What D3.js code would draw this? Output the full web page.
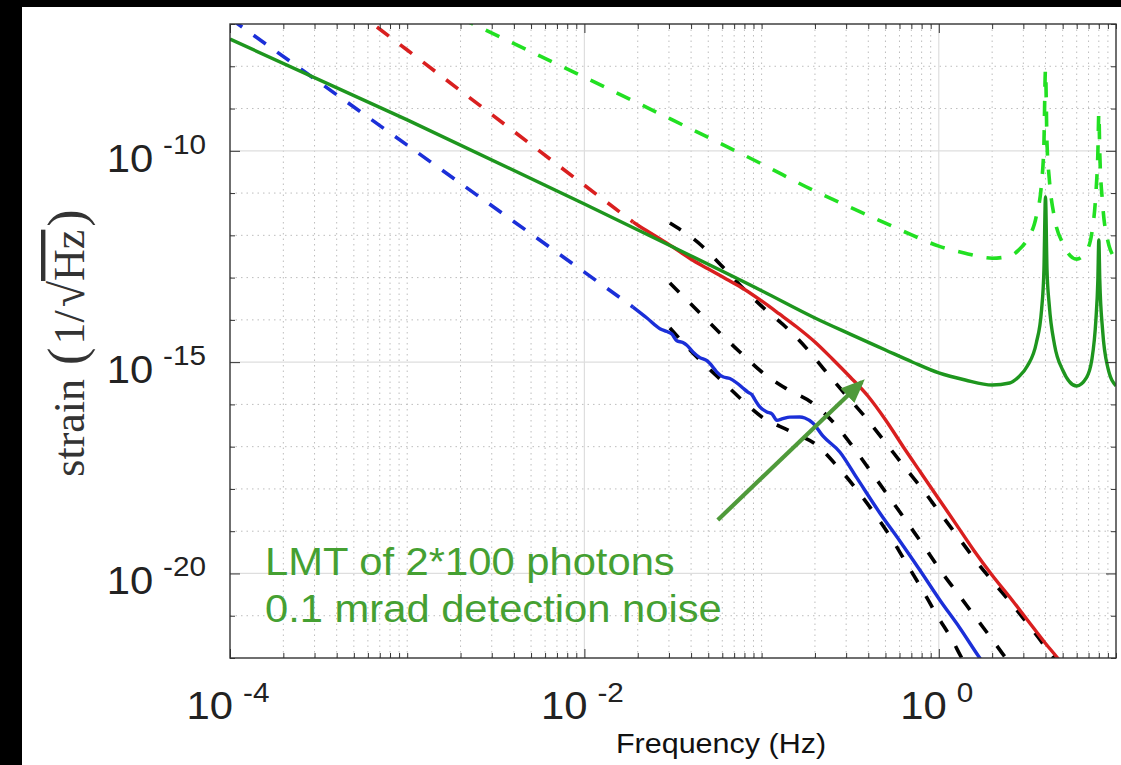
<!DOCTYPE html>
<html><head><meta charset="utf-8">
<script src="https://cdn.jsdelivr.net/npm/d3@7"></script>
<style>html,body{margin:0;padding:0;background:#000;overflow:hidden}</style>
</head><body>
<svg id="chart" width="1121" height="765"></svg>
<script>
// ---------------- data ----------------
const xTickValues = [1e-4, 1e-2, 1e0];
const xTickExps = ["-4", "-2", "0"];
const yTickValues = [1e-20, 1e-15, 1e-10];
const yTickExps = ["-20", "-15", "-10"];

const greenSolidFreq = [1e-4, 1e-3, 1e-2, 0.0316, 0.1, 0.2, 0.316, 0.5, 0.708, 1.0, 1.41, 2.0, 2.51, 2.82, 3.16, 3.55, 3.8, 3.92, 4.0, 4.08, 4.2, 4.5, 5.0, 6.0, 6.8, 7.3, 7.7, 7.9, 8.0, 8.1, 8.4, 9.0, 10];
const greenSolidStrain = [4.4e-8, 5.4e-10, 5.5e-12, 5.3e-13, 4.9e-14, 1.11e-14, 4.6e-15, 1.94e-15, 1.01e-15, 5.55e-16, 3.78e-16, 2.88e-16, 3.21e-16, 4.46e-16, 8.11e-16, 2.84e-15, 1.71e-14, 1.51e-13, 8.07e-12, 1.51e-13, 2.25e-14, 2.55e-15, 6.53e-16, 2.73e-16, 4.22e-16, 1.12e-15, 9.93e-15, 8.79e-14, 7.76e-13, 8.79e-14, 5.77e-15, 7.28e-16, 2.73e-16];

const greenDashedFreq = [1e-3, 1e-2, 0.0316, 0.1, 0.2, 0.316, 0.5, 0.708, 1.0, 1.41, 2.0, 2.51, 2.82, 3.16, 3.55, 3.8, 3.92, 4.0, 4.08, 4.2, 4.5, 5.0, 6.0, 6.8, 7.3, 7.7, 7.9, 8.0, 8.1, 8.4, 9.0, 10];
const greenDashedStrain = [5.4e-7, 5.5e-9, 5.3e-10, 4.9e-11, 1.11e-11, 4.6e-12, 1.94e-12, 1.01e-12, 5.55e-13, 3.78e-13, 2.88e-13, 3.21e-13, 4.46e-13, 8.11e-13, 2.84e-12, 1.71e-11, 1.51e-10, 8.07e-9, 1.51e-10, 2.25e-11, 2.55e-12, 6.53e-13, 2.73e-13, 4.22e-13, 1.12e-12, 9.93e-12, 8.79e-11, 7.76e-10, 8.79e-11, 5.77e-12, 7.28e-13, 2.73e-13];

const redDashedFreq = [5e-4, 1e-3, 1e-2, 0.0188];
const redDashedStrain = [2.21e-7, 2.42e-8, 1.53e-11, 2.07e-12];
const redSolidFreq = [0.0188, 0.01995, 0.0251, 0.0316, 0.0398, 0.0501, 0.0631, 0.0794, 0.1, 0.126, 0.158, 0.2, 0.251, 0.316, 0.398, 0.501, 0.631, 0.794, 1.0, 1.259, 1.585, 1.995, 2.512, 3.162, 3.981, 4.68, 5.01];
const redSolidStrain = [2.07e-12, 1.76e-12, 9.66e-13, 5.30e-13, 2.75e-13, 1.60e-13, 9.27e-14, 5.38e-14, 2.80e-14, 1.38e-14, 6.79e-15, 3.00e-15, 1.19e-15, 4.46e-16, 1.58e-16, 4.28e-17, 9.84e-18, 2.39e-18, 5.79e-19, 1.41e-19, 3.41e-20, 9.23e-21, 2.78e-21, 7.94e-22, 2.27e-22, 1.0e-22, 6.9e-23];

const blueDashedFreq = [1e-4, 1e-3, 1e-2, 0.01878];
const blueDashedStrain = [1.36e-7, 1.36e-10, 1.35e-13, 2.02e-14];
const blueSolidFreq = [0.01878, 0.02253, 0.02667, 0.02921, 0.03116, 0.03325, 0.03594, 0.03787, 0.04094, 0.04484, 0.04911, 0.05309, 0.05591, 0.06044, 0.06621, 0.07251, 0.07835, 0.08364, 0.0881, 0.09161, 0.09775, 0.1071, 0.1143, 0.1219, 0.1318, 0.1443, 0.1643, 0.1754, 0.1945, 0.2216, 0.2763, 0.3447, 0.4646, 0.6026, 0.7812, 1.013, 1.314, 1.703, 1.94];
const blueSolidStrain = [2.02e-14, 1.11e-14, 6.2e-15, 5.3e-15, 4.6e-15, 3.2e-15, 2.9e-15, 2.5e-15, 1.75e-15, 1.28e-15, 1.08e-15, 7.68e-16, 5.8e-16, 4.5e-16, 4.1e-16, 3.21e-16, 2.45e-16, 1.95e-16, 1.7e-16, 1.3e-16, 8.69e-17, 6.62e-17, 6.0e-17, 4.2e-17, 4.6e-17, 5.0e-17, 5.05e-17, 4.77e-17, 3.64e-17, 1.79e-17, 7.50e-18, 1.82e-18, 2.70e-19, 5.87e-20, 1.21e-20, 2.36e-21, 5.14e-22, 1.0e-22, 4.7e-23];

const blackAFreq = [0.03037, 0.04544, 0.05965, 0.07735, 0.1057, 0.1406, 0.1848, 0.2365, 0.3027, 0.3925, 0.5023, 0.6348, 0.8229, 1.026, 1.297, 1.638, 2.097, 2.719, 3.48, 4.455, 4.94];
const blackAStrain = [1.96e-12, 5.91e-13, 1.88e-13, 6.00e-14, 1.71e-14, 6.09e-15, 1.84e-15, 5.25e-16, 1.58e-16, 4.52e-17, 1.22e-17, 3.49e-18, 8.95e-19, 2.56e-19, 6.92e-20, 1.87e-20, 5.35e-21, 1.45e-21, 3.92e-22, 1.0e-22, 5.8e-23];
const blackBFreq = [0.03037, 0.04257, 0.05737, 0.07537, 0.1003, 0.1388, 0.1971, 0.259, 0.3315, 0.4188, 0.5292, 0.66, 0.8229, 1.026, 1.297, 1.638, 2.07, 2.388, 2.65];
const blackBStrain = [7.46e-14, 1.81e-14, 5.17e-15, 1.74e-15, 5.85e-16, 2.32e-16, 1.02e-16, 3.44e-17, 9.31e-18, 2.39e-18, 6.11e-19, 1.66e-19, 4.48e-20, 1.15e-20, 3.10e-21, 8.39e-22, 2.27e-22, 1.0e-22, 5.8e-23];
const blackCFreq = [0.03037, 0.04312, 0.05663, 0.07537, 0.1003, 0.1443, 0.2076, 0.2693, 0.3491, 0.4355, 0.5431, 0.66, 0.802, 0.9743, 1.199, 1.348, 1.457];
const blackCStrain = [6.43e-15, 1.32e-15, 4.46e-16, 1.42e-16, 5.05e-17, 2.35e-17, 1.04e-17, 3.31e-18, 8.95e-19, 2.56e-19, 6.55e-20, 1.68e-20, 4.31e-21, 1.04e-21, 2.53e-22, 1.0e-22, 5.8e-23];

const annotationLines = ["LMT of 2*100 photons", "0.1 mrad detection noise"];
const annotationPos = [[1.575e-4, 9.23e-21], [1.575e-4, 7.13e-22]];
const arrowTail = [0.0566, 1.845e-19];
const arrowTip = [0.368, 3.40e-16];

// ---------------- chart ----------------
const W = 1121, H = 765;
const L = 230, T = 24, R = 1116, B = 658;
const x = d3.scaleLog().domain([1e-4, 10]).range([L, R]);
const y = d3.scaleLog().domain([1e-22, 1e-7]).range([B, T]);
const svg = d3.select("#chart");
const SANS = "'Liberation Sans', Arial, Helvetica, sans-serif";

svg.append("rect").attr("x", 22).attr("y", 7).attr("width", W - 22).attr("height", H - 7).attr("fill", "#fff");
const defs = svg.append("defs");
defs.append("clipPath").attr("id", "clip").append("rect")
  .attr("x", L).attr("y", T).attr("width", R - L).attr("height", B - T);
defs.append("marker").attr("id", "arrowhead").attr("markerUnits", "userSpaceOnUse")
  .attr("markerWidth", 26).attr("markerHeight", 22).attr("refX", 20).attr("refY", 10)
  .attr("orient", "auto")
  .append("path").attr("d", "M0,0 L24,10 L0,20 Z").attr("fill", "#4f9a3a");

// tick positions
const minorX = [];
for (let n = -4; n <= 0; n++) for (let k = 1; k <= 9; k++) minorX.push(k * Math.pow(10, n));
minorX.push(10);
const decadesY = [];
for (let n = -22; n <= -7; n++) decadesY.push(Math.pow(10, n));
const isMajorX = v => xTickValues.some(t => Math.abs(Math.log10(v) - Math.log10(t)) < 1e-9);
const isMajorY = v => yTickValues.some(t => Math.abs(Math.log10(v) - Math.log10(t)) < 1e-9);

// grid
const grid = svg.append("g");
grid.selectAll(".gxm").data(minorX.filter(v => !isMajorX(v) && v > 1e-4 && v < 10)).enter().append("line")
  .attr("x1", d => x(d)).attr("x2", d => x(d)).attr("y1", T).attr("y2", B)
  .attr("stroke", "#bdbdbd").attr("stroke-width", 1).attr("stroke-dasharray", "1.5,4");
grid.selectAll(".gym").data(decadesY.filter(v => !isMajorY(v) && v > 1e-22 && v < 1e-7)).enter().append("line")
  .attr("y1", d => y(d)).attr("y2", d => y(d)).attr("x1", L).attr("x2", R)
  .attr("stroke", "#bdbdbd").attr("stroke-width", 1).attr("stroke-dasharray", "1.5,4");
grid.selectAll(".gxM").data(xTickValues.filter(v => v > 1e-4)).enter().append("line")
  .attr("x1", d => x(d)).attr("x2", d => x(d)).attr("y1", T).attr("y2", B)
  .attr("stroke", "#dedede").attr("stroke-width", 1.2);
grid.selectAll(".gyM").data(yTickValues).enter().append("line")
  .attr("y1", d => y(d)).attr("y2", d => y(d)).attr("x1", L).attr("x2", R)
  .attr("stroke", "#dedede").attr("stroke-width", 1.2);

// curves
const pts = (f, s) => d3.zip(f, s);
const lineLin = d3.line().x(d => x(d[0])).y(d => y(d[1]));
const lineSmooth = d3.line().x(d => x(d[0])).y(d => y(d[1])).curve(d3.curveMonotoneX);
const curves = svg.append("g").attr("clip-path", "url(#clip)").attr("fill", "none");

const series = [
  {d: pts(blackAFreq, blackAStrain), c: "#000", w: 3.6, dash: "13,16", gen: lineSmooth},
  {d: pts(blackBFreq, blackBStrain), c: "#000", w: 3.6, dash: "13,16", gen: lineSmooth},
  {d: pts(blackCFreq, blackCStrain), c: "#000", w: 3.6, dash: "13,16", gen: lineSmooth},
  {d: pts(redDashedFreq, redDashedStrain), c: "#d91f1f", w: 3.6, dash: "15,14", gen: lineLin},
  {d: pts(redSolidFreq, redSolidStrain), c: "#d91f1f", w: 3.4, dash: null, gen: lineSmooth},
  {d: pts(blueDashedFreq, blueDashedStrain), c: "#1b2fd8", w: 3.6, dash: "15,14", gen: lineLin},
  {d: pts(blueSolidFreq, blueSolidStrain), c: "#1b2fd8", w: 3.4, dash: null, gen: lineSmooth},
  {d: pts(greenDashedFreq, greenDashedStrain), c: "#22e022", w: 3.6, dash: "15,14", gen: lineSmooth},
  {d: pts(greenSolidFreq, greenSolidStrain), c: "#1e961e", w: 3.4, dash: null, gen: lineSmooth}
];
series.forEach(s => {
  const p = curves.append("path").attr("d", s.gen(s.d)).attr("stroke", s.c)
    .attr("stroke-width", s.w).attr("stroke-linejoin", "round");
  if (s.dash) p.attr("stroke-dasharray", s.dash);
});

// axes (ticks inward on all sides)
function noDomain(g) { g.select(".domain").remove(); g.selectAll("text").remove(); g.selectAll("line").attr("stroke", "#333"); }
const minorOnlyX = minorX.filter(v => !isMajorX(v));
const minorOnlyY = decadesY.filter(v => !isMajorY(v));
svg.append("g").attr("transform", `translate(0,${B})`).call(d3.axisBottom(x).tickValues(minorOnlyX).tickSize(-5).tickFormat("")).call(noDomain);
svg.append("g").attr("transform", `translate(0,${B})`).call(d3.axisBottom(x).tickValues(xTickValues).tickSize(-9).tickFormat("")).call(noDomain);
svg.append("g").attr("transform", `translate(0,${T})`).call(d3.axisTop(x).tickValues(minorOnlyX).tickSize(-5).tickFormat("")).call(noDomain);
svg.append("g").attr("transform", `translate(0,${T})`).call(d3.axisTop(x).tickValues(xTickValues).tickSize(-9).tickFormat("")).call(noDomain);
svg.append("g").attr("transform", `translate(${L},0)`).call(d3.axisLeft(y).tickValues(minorOnlyY).tickSize(-5).tickFormat("")).call(noDomain);
svg.append("g").attr("transform", `translate(${L},0)`).call(d3.axisLeft(y).tickValues(yTickValues).tickSize(-10).tickFormat("")).call(noDomain);
svg.append("g").attr("transform", `translate(${R},0)`).call(d3.axisRight(y).tickValues(minorOnlyY).tickSize(-5).tickFormat("")).call(noDomain);
svg.append("g").attr("transform", `translate(${R},0)`).call(d3.axisRight(y).tickValues(yTickValues).tickSize(-10).tickFormat("")).call(noDomain);
svg.append("rect").attr("x", L).attr("y", T).attr("width", R - L).attr("height", B - T)
  .attr("fill", "none").attr("stroke", "#333").attr("stroke-width", 1.4);

// tick labels
function powLabel(gx, gy, exp, anchor, dy) {
  const g = svg.append("g").attr("transform", `translate(${gx},${gy}) scale(1.1,1)`);
  const t = g.append("text").attr("text-anchor", anchor).attr("font-family", SANS)
    .attr("font-size", 38).attr("fill", "#222");
  t.append("tspan").text("10");
  t.append("tspan").attr("dx", 9).attr("dy", dy).attr("font-size", 27).text(exp);
}
xTickValues.forEach((v, i) => powLabel(x(v) - 2, 719, xTickExps[i], "middle", -17));
yTickValues.forEach((v, i) => powLabel(206, y(v) + 21, yTickExps[i], "end", -18));

// axis titles
svg.append("g").attr("transform", "translate(721,753) scale(1.09,1)")
  .append("text").attr("text-anchor", "middle").attr("font-family", SANS)
  .attr("font-size", 28).attr("fill", "#111").text("Frequency (Hz)");
const yl = svg.append("g").attr("transform", "translate(84,343) rotate(-90)")
  .append("text").attr("text-anchor", "middle").attr("font-family", "'Liberation Serif', 'DejaVu Serif', serif")
  .attr("font-size", 44).attr("fill", "#333");
yl.append("tspan").text("strain");
yl.append("tspan").attr("dx", 14).attr("font-size", 52).text("(");
yl.append("tspan").attr("dx", 3).text("1/");
yl.append("tspan").attr("dx", 3).attr("font-size", 48).text("√");
yl.append("tspan").style("text-decoration", "overline").text("Hz");
yl.append("tspan").attr("dx", 3).attr("font-size", 52).text(")");

// annotation
const ax1 = x(arrowTail[0]), ay1 = y(arrowTail[1]), ax2 = x(arrowTip[0]), ay2 = y(arrowTip[1]);
svg.append("line").attr("x1", ax1).attr("y1", ay1).attr("x2", ax2).attr("y2", ay2)
  .attr("stroke", "#4f9a3a").attr("stroke-width", 4.2).attr("marker-end", "url(#arrowhead)");
annotationLines.forEach((s, i) => {
  svg.append("g").attr("transform", `translate(${x(annotationPos[i][0])},${y(annotationPos[i][1])}) scale(1.07,1)`)
    .append("text").attr("font-family", SANS).attr("font-size", 39).attr("fill", "#45a032").text(s);
});
</script>
</body></html>
